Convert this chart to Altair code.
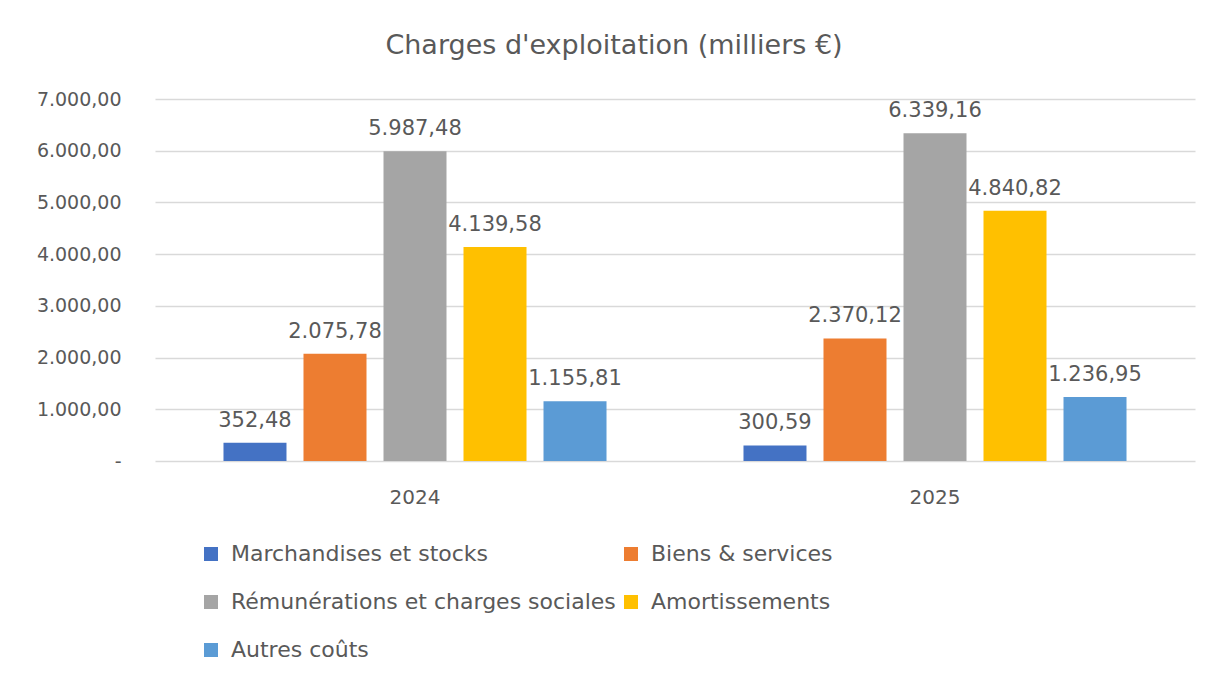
import altair as alt
import pandas as pd

years = ["2024", "2025"]
categories = [
    "Marchandises et stocks",
    "Biens & services",
    "Rémunérations et charges sociales",
    "Amortissements",
    "Autres coûts",
]
values_2024 = [352.48, 2075.78, 5987.48, 4139.58, 1155.81]
values_2025 = [300.59, 2370.12, 6339.16, 4840.82, 1236.95]
colors = ["#4472C4", "#ED7D31", "#A5A5A5", "#FFC000", "#5B9BD5"]
y_ticks = [0, 1000, 2000, 3000, 4000, 5000, 6000, 7000]

rows = []
for yr, vals in zip(years, [values_2024, values_2025]):
    for i, (c, v) in enumerate(zip(categories, vals)):
        rows.append({"year": yr, "cat": c, "order": i, "value": v})
df = pd.DataFrame(rows)

FONT = "DejaVu Sans"
TXT = "#595959"

base = alt.Chart(df).encode(
    x=alt.X("year:N", sort=years,
            scale=alt.Scale(paddingInner=0, paddingOuter=0),
            axis=alt.Axis(title=None, labelAngle=0, labelFontSize=20,
                          labelColor=TXT, labelPadding=26, ticks=False,
                          domain=False, labelFont=FONT)),
    xOffset=alt.XOffset("cat:N", sort=categories,
                        scale=alt.Scale(paddingInner=0.2125, paddingOuter=0.856)),
    y=alt.Y("value:Q",
            scale=alt.Scale(domain=[0, 7000], nice=False),
            axis=alt.Axis(title=None, values=y_ticks, format=",.2f",
                          labelExpr="datum.value == 0 ? '-' : datum.label",
                          labelFontSize=19, labelColor=TXT, labelPadding=34,
                          ticks=False, domain=False, gridColor="#D9D9D9",
                          gridWidth=1.5, labelFont=FONT)),
)

bars = base.mark_bar().encode(
    color=alt.Color("cat:N", sort=categories,
                    scale=alt.Scale(domain=categories, range=colors),
                    legend=alt.Legend(title=None, orient="none",
                                      legendX=45, legendY=444,
                                      columns=2, direction="horizontal",
                                      symbolType="square", symbolSize=196,
                                      symbolStrokeWidth=0,
                                      labelFontSize=22, labelColor=TXT,
                                      labelFont=FONT, rowPadding=26,
                                      columnPadding=4, labelLimit=600,
                                      labelOffset=9)),
)

labels = base.mark_text(baseline="bottom", dy=-12, fontSize=21,
                        color=TXT, font=FONT).encode(
    text=alt.Text("value:Q", format=",.2f"),
)

chart = alt.layer(bars, labels).properties(
    width=1040, height=362,
    autosize=alt.AutoSizeParams(type="none"),
    padding={"left": 147, "top": 91, "right": 17, "bottom": 210},
    title=alt.TitleParams("Charges d'exploitation (milliers €)", fontSize=27,
                          fontWeight="normal", color=TXT, font=FONT,
                          anchor="middle", dx=-61, offset=30),
).configure(
    locale={"number": {"decimal": ",", "thousands": ".", "grouping": [3],
                       "currency": ["", " €"]}},
).configure_view(stroke=None)

chart.save("out.html", embed_options={"renderer": "svg", "actions": False})
